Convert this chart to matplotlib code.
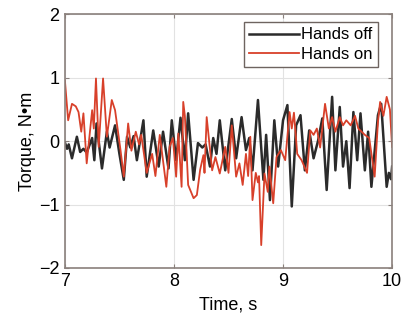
import matplotlib
matplotlib.use("Agg")
import matplotlib.pyplot as plt

# Hands off (black) - time, torque
t_off = [7.00, 7.02, 7.035, 7.065, 7.11, 7.14, 7.17, 7.20, 7.25, 7.27, 7.29, 7.34,
         7.385, 7.41, 7.46, 7.50, 7.54, 7.57, 7.60, 7.63, 7.66, 7.72, 7.75, 7.81,
         7.86, 7.90, 7.95, 7.98, 8.02, 8.06, 8.10, 8.13, 8.18, 8.22, 8.26, 8.29,
         8.33, 8.36, 8.39, 8.42, 8.47, 8.53, 8.57, 8.62, 8.66, 8.69, 8.72, 8.77,
         8.82, 8.845, 8.88, 8.92, 8.955, 9.00, 9.04, 9.08, 9.12, 9.16, 9.20, 9.24,
         9.28, 9.32, 9.36, 9.40, 9.45, 9.48, 9.52, 9.55, 9.58, 9.61, 9.645, 9.68,
         9.71, 9.75, 9.78, 9.81, 9.87, 9.90, 9.95, 9.97, 9.99, 10.00]
v_off = [-0.02, -0.12, -0.05, -0.27, 0.07, -0.17, -0.12, -0.18, 0.05, -0.30, 0.28, -0.43,
         0.15, -0.10, 0.25, -0.20, -0.61, 0.07, -0.10, 0.08, -0.30, 0.33, -0.56, 0.17,
         -0.40, 0.15, -0.43, 0.33, -0.30, 0.37, -0.30, 0.44, -0.61, -0.03, -0.10, -0.05,
         -0.40, 0.05, -0.20, 0.33, -0.46, 0.35, -0.27, 0.38, -0.14, 0.05, -0.46, 0.65,
         -0.61, 0.10, -0.93, 0.33, -0.40, 0.33, 0.57, -1.03, 0.25, 0.41, -0.46, 0.17,
         -0.27, 0.00, 0.36, -0.77, 0.70, -0.46, 0.54, -0.40, 0.00, -0.74, 0.46, -0.30,
         0.44, -0.46, 0.15, -0.72, 0.41, 0.59, -0.72, -0.50, -0.60, -0.40]

# Hands on (red)
t_on = [7.00, 7.03, 7.065, 7.10, 7.125, 7.15, 7.17, 7.20, 7.25, 7.265, 7.285, 7.31,
        7.35, 7.385, 7.43, 7.46, 7.51, 7.54, 7.58, 7.61, 7.65, 7.68, 7.70, 7.75,
        7.80, 7.83, 7.87, 7.93, 7.96, 7.99, 8.02, 8.04, 8.07, 8.085, 8.10, 8.13,
        8.18, 8.21, 8.24, 8.27, 8.28, 8.30, 8.35, 8.38, 8.42, 8.47, 8.50, 8.53,
        8.57, 8.60, 8.63, 8.66, 8.68, 8.70, 8.72, 8.75, 8.77, 8.78, 8.80, 8.83,
        8.86, 8.875, 8.91, 8.94, 8.98, 9.02, 9.06, 9.08, 9.10, 9.13, 9.17, 9.22,
        9.25, 9.28, 9.31, 9.34, 9.385, 9.42, 9.45, 9.48, 9.52, 9.55, 9.58, 9.62,
        9.66, 9.69, 9.75, 9.79, 9.84, 9.87, 9.89, 9.92, 9.95, 9.98, 10.00]
v_on = [0.96, 0.33, 0.59, 0.55, 0.46, 0.15, 0.44, -0.35, 0.49, 0.20, 0.99, -0.09,
        0.99, 0.07, 0.65, 0.49, -0.14, -0.56, 0.28, -0.15, 0.15, -0.05, 0.10, -0.50,
        -0.20, -0.55, 0.10, -0.72, -0.09, 0.05, -0.56, 0.12, -0.72, 0.62, 0.40, -0.69,
        -0.90, -0.85, -0.45, -0.22, -0.50, 0.38, -0.46, -0.25, -0.51, -0.09, -0.50, 0.25,
        -0.56, -0.35, -0.69, -0.20, -0.55, 0.07, -0.93, -0.50, -0.65, -0.55, -1.64, -0.51,
        -0.80, -0.40, -0.98, -0.25, -0.14, -0.30, 0.46, 0.20, 0.45, -0.20, -0.30, -0.50,
        0.17, 0.10, 0.20, -0.10, 0.59, 0.20, 0.38, 0.15, 0.38, 0.25, 0.33, 0.25,
        0.40, 0.20, 0.10, 0.05, -0.56, 0.30, 0.62, 0.40, 0.70, 0.50, -0.09]

plt.rcParams['font.family'] = ['Liberation Sans', 'DejaVu Sans']

fig = plt.figure(figsize=(4.03, 3.22), dpi=100)
ax = fig.add_axes([0.161, 0.168, 0.812, 0.787])

ax.plot(t_off, v_off, color="#2b2b2b", lw=1.8, label="Hands off")
ax.plot(t_on, v_on, color="#d8402a", lw=1.3, label="Hands on")

ax.set_xlim(7, 10)
ax.set_ylim(-2, 2)
ax.set_xticks([7, 8, 9, 10])
ax.set_yticks([-2, -1, 0, 1, 2])
ax.grid(True, color="#e2e2e2", lw=0.8)
ax.set_axisbelow(True)
ax.tick_params(direction="in", top=True, right=True, labelsize=13, length=3,
               color="#8a807c", pad=4)
for s in ax.spines.values():
    s.set_color("#8a807c")
    s.set_linewidth(1.2)

ax.set_xlabel("Time, s", fontsize=13, labelpad=4)
ax.set_ylabel("Torque, N\u2022m", fontsize=13, labelpad=2)

leg = ax.legend(loc="upper right", bbox_to_anchor=(0.958, 0.972), fontsize=12,
                handlelength=3.0, handletextpad=0.1, borderpad=0.35,
                labelspacing=0.25, fancybox=False, framealpha=1, borderaxespad=0)
leg.get_frame().set_edgecolor("#6e6460")
leg.get_frame().set_linewidth(1.0)

fig.savefig("out.png", dpi=100)
